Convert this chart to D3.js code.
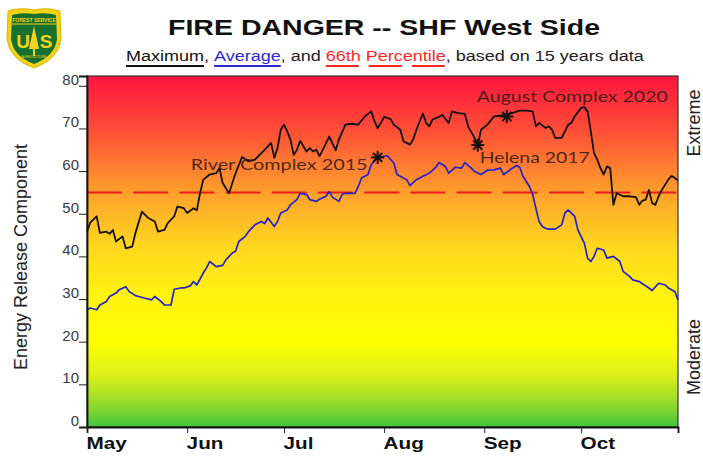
<!DOCTYPE html>
<html>
<head>
<meta charset="utf-8">
<script src="https://cdn.jsdelivr.net/npm/d3@7"></script>
<style>
  body { margin: 0; background: #fff; }
  svg { display: block; font-family: "Liberation Sans", Arial, sans-serif; }
</style>
</head>
<body>
<svg id="chart"></svg>
<script>
const width = 703;
const height = 456;
const year = 2021;

const monthTicks = ["05-01", "06-01", "07-01", "08-01", "09-01", "10-01"];
const monthLabels = ["May", "Jun", "Jul", "Aug", "Sep", "Oct"];
const yTicks = [0, 10, 20, 30, 40, 50, 60, 70, 80];
const percentile66 = 55;

// daily maximum ERC over 15 years
const maximumSeries = [
  ["05-01",45.8],["05-02",47.9],["05-04",49.4],["05-05",45.5],["05-07",45.8],["05-08",45.3],
  ["05-09",46.2],["05-10",43.5],["05-12",44.7],["05-13",41.9],["05-15",42.3],["05-16",45.5],
  ["05-18",50.5],["05-20",49.0],["05-22",48.2],["05-23",45.8],["05-25",46.2],["05-26",47.8],
  ["05-28",49.4],["05-29",51.7],["05-31",51.3],["06-01",50.2],["06-03",51.3],["06-04",50.8],
  ["06-05",54.8],["06-06",58.0],["06-08",59.2],["06-10",59.5],["06-11",60.7],["06-12",57.2],
  ["06-14",54.8],["06-15",57.2],["06-16",59.5],["06-18",63.3],["06-20",62.3],["06-22",62.7],
  ["06-24",64.2],["06-25",65.0],["06-27",66.6],["06-28",63.1],["06-29",65.4],["06-30",69.7],
  ["07-01",70.9],["07-02",69.3],["07-03",67.4],["07-04",63.8],["07-05",65.0],["07-06",67.1],
  ["07-08",64.6],["07-09",65.4],["07-10",64.6],["07-11",65.0],["07-12",63.5],["07-13",65.0],
  ["07-15",68.1],["07-17",64.9],["07-18",67.4],["07-20",70.9],["07-22",71.1],["07-24",70.9],
  ["07-26",72.8],["07-28",74.0],["07-29",71.7],["07-30",70.1],["07-31",71.3],["08-01",72.7],
  ["08-03",72.2],["08-04",70.9],["08-06",69.7],["08-07",67.0],["08-09",66.2],["08-10",67.4],
  ["08-11",69.7],["08-13",73.5],["08-14",71.3],["08-15",70.5],["08-16",72.1],["08-18",72.7],
  ["08-19",73.2],["08-21",71.3],["08-22",74.0],["08-24",73.6],["08-26",73.4],["08-27",70.5],
  ["08-29",67.8],["08-30",65.8],["08-31",69.7],["09-02",70.9],["09-04",72.8],["09-06",73.0],
  ["09-08",73.2],["09-12",74.2],["09-14",74.2],["09-16",74.0],["09-17",70.5],["09-18",71.3],
  ["09-20",70.1],["09-21",70.5],["09-22",69.7],["09-23",67.8],["09-25",67.8],["09-27",70.9],
  ["09-28",71.3],["09-29",72.8],["10-01",74.8],["10-02",75.0],["10-03",74.0],["10-04",69.3],
  ["10-05",64.2],["10-06",62.7],["10-07",60.7],["10-08",59.2],["10-09",61.1],["10-10",60.7],
  ["10-11",52.1],["10-12",54.8],["10-14",54.1],["10-16",54.1],["10-18",53.9],["10-19",52.1],
  ["10-20",53.1],["10-21",53.3],["10-22",55.6],["10-23",52.5],["10-24",52.1],["10-25",54.1],
  ["10-26",55.6],["10-28",58.0],["10-29",58.9],["10-30",58.4],["10-31",57.8]
];

// daily average ERC
const averageSeries = [
  ["05-01",27.5],["05-02",27.9],["05-04",27.5],["05-05",28.6],["05-07",29.4],["05-08",30.6],
  ["05-10",31.4],["05-11",32.2],["05-13",32.9],["05-14",31.8],["05-16",30.8],["05-17",30.6],
  ["05-19",30.2],["05-21",29.8],["05-22",30.6],["05-24",29.4],["05-25",28.6],["05-27",28.6],
  ["05-28",32.3],["05-30",32.6],["05-31",32.6],["06-02",33.1],["06-03",34.1],["06-04",33.3],
  ["06-06",36.1],["06-07",37.3],["06-08",38.8],["06-10",37.6],["06-12",37.9],["06-13",39.2],
  ["06-15",40.8],["06-16",41.2],["06-17",43.5],["06-19",44.7],["06-20",45.8],["06-22",47.4],
  ["06-24",48.2],["06-25",47.7],["06-26",49.0],["06-28",47.0],["06-29",48.2],["06-30",50.2],
  ["07-02",50.9],["07-03",52.1],["07-05",53.3],["07-06",54.8],["07-08",54.5],["07-09",53.3],
  ["07-11",52.9],["07-12",53.4],["07-14",54.1],["07-15",55.2],["07-16",53.9],["07-18",52.9],
  ["07-19",54.5],["07-20",54.8],["07-23",54.8],["07-24",56.4],["07-25",58.4],["07-27",59.2],
  ["07-28",61.5],["07-30",63.3],["07-31",63.3],["08-02",63.6],["08-04",61.9],["08-05",59.2],
  ["08-08",58.0],["08-09",56.6],["08-11",58.0],["08-13",58.8],["08-15",59.5],["08-17",60.9],
  ["08-18",62.0],["08-20",61.1],["08-21",59.5],["08-23",60.9],["08-25",60.7],["08-26",62.0],
  ["08-28",60.7],["08-29",59.9],["08-31",59.2],["09-02",60.2],["09-04",60.3],["09-06",60.7],
  ["09-07",59.2],["09-09",60.3],["09-11",61.3],["09-12",60.9],["09-13",58.8],["09-15",56.4],
  ["09-16",54.5],["09-17",51.3],["09-18",48.2],["09-19",47.0],["09-20",46.6],["09-21",46.4],
  ["09-23",46.4],["09-25",47.4],["09-26",50.2],["09-27",50.9],["09-29",49.4],["09-30",46.2],
  ["10-02",43.1],["10-03",39.6],["10-04",38.8],["10-05",40.0],["10-06",41.9],["10-08",41.5],
  ["10-09",39.6],["10-11",40.0],["10-13",38.8],["10-14",36.5],["10-16",35.3],["10-17",34.5],
  ["10-19",34.1],["10-20",33.6],["10-22",32.6],["10-23",32.0],["10-25",33.7],["10-27",33.3],
  ["10-28",32.6],["10-30",31.8],["10-31",29.8]
];

const fireDates = ["07-30", "08-30", "09-08"];
const fireValues = [63.2, 66.1, 72.8];
const fireLabels = ["River Complex 2015", "Helena 2017", "August Complex 2020"];

const parseDay = d3.timeParse("%Y-%m-%d");
const toDate = (s) => parseDay(`${year}-${s}`);

const plot = { left: 87, right: 678, top: 76, bottom: 427 };

const svg = d3.select("#chart").attr("width", width).attr("height", height);

const x = d3
  .scaleTime()
  .domain([toDate("05-01"), toDate("10-31")])
  .range([plot.left, plot.right]);
const y = d3.scaleLinear().domain([0, 82.3]).range([plot.bottom, plot.top]);

// background gradient, red at top through yellow to green
const defs = svg.append("defs");
const grad = defs
  .append("linearGradient")
  .attr("id", "bg")
  .attr("gradientUnits", "userSpaceOnUse")
  .attr("x1", 0)
  .attr("x2", 0)
  .attr("y1", plot.top)
  .attr("y2", plot.bottom);
[
  [82.3, "#ff1440"],
  [70, "#ff4c37"],
  [60, "#ff8430"],
  [52, "#ffae2a"],
  [42, "#ffd81e"],
  [32, "#fff010"],
  [20, "#ffff00"],
  [12, "#dcef1c"],
  [5, "#90d82c"],
  [0, "#3ec63a"],
].forEach(([v, c]) => {
  grad
    .append("stop")
    .attr("offset", (y(v) - plot.top) / (plot.bottom - plot.top))
    .attr("stop-color", c);
});

svg
  .append("rect")
  .attr("x", plot.left)
  .attr("y", plot.top)
  .attr("width", plot.right - plot.left)
  .attr("height", plot.bottom - plot.top)
  .attr("fill", "url(#bg)");

// 66th percentile
svg
  .append("line")
  .attr("x1", plot.left)
  .attr("x2", x(toDate("10-31")))
  .attr("y1", y(percentile66))
  .attr("y2", y(percentile66))
  .attr("stroke", "#ee1a1a")
  .attr("stroke-width", 2)
  .attr("stroke-dasharray", "35 11.2");

const line = d3
  .line()
  .x((d) => x(toDate(d[0])))
  .y((d) => y(d[1]));

svg
  .append("path")
  .datum(averageSeries)
  .attr("d", line)
  .attr("fill", "none")
  .attr("stroke", "#2222c8")
  .attr("stroke-width", 1.7)
  .attr("stroke-linejoin", "round");

svg
  .append("path")
  .datum(maximumSeries)
  .attr("d", line)
  .attr("fill", "none")
  .attr("stroke", "#111")
  .attr("stroke-width", 1.8)
  .attr("stroke-linejoin", "round");

// fire annotations
const labelOffsets = [
  { dx: -10, dy: 13, anchor: "end", len: 177 },
  { dx: 2, dy: 18, anchor: "start", len: 110 },
  { dx: -30, dy: -15, anchor: "start", len: 191 },
];
fireDates.forEach((d, i) => {
  const cx = x(toDate(d));
  const cy = y(fireValues[i]);
  const g = svg.append("g").attr("transform", `translate(${cx},${cy})`);
  [0, 45, 90, 135].forEach((a) => {
    const r = 6.5;
    const rad = (a * Math.PI) / 180;
    g.append("line")
      .attr("x1", -r * Math.cos(rad))
      .attr("y1", -r * Math.sin(rad))
      .attr("x2", r * Math.cos(rad))
      .attr("y2", r * Math.sin(rad))
      .attr("stroke", "#111")
      .attr("stroke-width", 2);
  });
  const o = labelOffsets[i];
  svg
    .append("text")
    .attr("x", cx + o.dx)
    .attr("y", cy + o.dy)
    .attr("text-anchor", o.anchor)
    .attr("font-family", "Lato, 'Open Sans', sans-serif")
    .attr("font-size", 16)
    .attr("textLength", o.len)
    .attr("lengthAdjust", "spacingAndGlyphs")
    .attr("fill", "#2b1810")
    .attr("fill-opacity", 0.85)
    .text(fireLabels[i]);
});

// frame
svg
  .append("rect")
  .attr("x", plot.left)
  .attr("y", plot.top)
  .attr("width", plot.right - plot.left)
  .attr("height", plot.bottom - plot.top)
  .attr("fill", "none")
  .attr("stroke", "#333")
  .attr("stroke-width", 1.2);

// y axis
const yAxis = svg
  .append("g")
  .attr("transform", `translate(${plot.left},0)`)
  .call(d3.axisLeft(y).tickValues(yTicks).tickSize(8).tickPadding(0).tickFormat(d3.format("d")));
yAxis.select(".domain").attr("stroke", "#111").attr("stroke-width", 1.8);
yAxis.selectAll(".tick line").attr("stroke", "#222");
yAxis
  .selectAll(".tick text")
  .attr("font-size", 15)
  .attr("fill", "#3a3a3a")
  .attr("dy", "-0.1em")
  .attr("x", -8);

// x axis
const xAxis = svg
  .append("g")
  .attr("transform", `translate(0,${plot.bottom})`)
  .call(
    d3
      .axisBottom(x)
      .tickValues(monthTicks.map(toDate))
      .tickSize(6)
      .tickFormat((d, i) => monthLabels[i])
  );
xAxis.select(".domain").attr("stroke", "#111").attr("stroke-width", 1.8);
xAxis.selectAll(".tick line").attr("stroke", "#222");
xAxis
  .selectAll(".tick text")
  .attr("font-size", 17)
  .attr("font-weight", "bold")
  .attr("fill", "#111")
  .attr("text-anchor", "start")
  .attr("x", 0)
  .attr("y", 0)
  .attr("dy", 0)
  .attr("transform", "translate(-1,22) scale(1.22,1)");

// axis titles
svg
  .append("text")
  .attr("transform", `translate(27,257) rotate(-90)`)
  .attr("text-anchor", "middle")
  .attr("font-size", 18)
  .attr("fill", "#222")
  .text("Energy Release Component");
svg
  .append("text")
  .attr("transform", `translate(700,123) rotate(-90)`)
  .attr("text-anchor", "middle")
  .attr("font-size", 18)
  .attr("fill", "#222")
  .text("Extreme");
svg
  .append("text")
  .attr("transform", `translate(700,357) rotate(-90)`)
  .attr("text-anchor", "middle")
  .attr("font-size", 18)
  .attr("fill", "#222")
  .text("Moderate");

// title
svg
  .append("text")
  .attr("x", 168)
  .attr("y", 35)
  .attr("font-size", 22)
  .attr("font-weight", "bold")
  .attr("fill", "#111")
  .attr("textLength", 432)
  .attr("lengthAdjust", "spacingAndGlyphs")
  .text("FIRE DANGER -- SHF West Side");

// subtitle with coloured, underlined words
const subtitleParts = [
  { text: "Maximum", color: "#111", under: "solid" },
  { text: ", ", color: "#222" },
  { text: "Average", color: "#2a2ad6", under: "solid" },
  { text: ", and ", color: "#222" },
  { text: "66th Percentile", color: "#ff2626", under: "dash" },
  { text: ", based on 15 years data", color: "#222" },
];
const sub = svg.append("g");
let cursor = 0;
const placed = subtitleParts.map((p) => {
  const t = sub
    .append("text")
    .attr("x", cursor)
    .attr("y", 0)
    .attr("font-size", 15)
    .attr("fill", p.color)
    .attr("xml:space", "preserve")
    .style("white-space", "pre")
    .text(p.text);
  const w = t.node().getComputedTextLength();
  const r = { x: cursor, w, p };
  cursor += w;
  return r;
});
const sx = 518 / cursor;
sub.attr("transform", `translate(126,61) scale(${sx},1)`);
placed
  .filter((r) => r.p.under)
  .forEach((r) => {
    sub
      .append("line")
      .attr("x1", r.x)
      .attr("x2", r.x + r.w)
      .attr("y1", 5)
      .attr("y2", 5)
      .attr("stroke", r.p.color)
      .attr("stroke-width", 2)
      .attr("stroke-dasharray", r.p.under === "dash" ? `${33 / sx} ${10 / sx}` : null);
  });

// forest service shield
const logo = svg.append("g").attr("transform", "translate(6,7)");
const shield = "M2,4 Q14,0 28,3 Q42,0 54,4 L55,32 Q53,52 28,61 Q3,52 1,32 Z";
logo.append("path").attr("d", shield).attr("fill", "#f2d21a").attr("stroke", "#d8b800").attr("stroke-width", 1);
logo
  .append("path")
  .attr("d", "M6,8 Q16,5 28,7 Q40,5 50,8 L51,32 Q49,49 28,57 Q7,49 5,32 Z")
  .attr("fill", "#17702e");
logo.append("line").attr("x1", 6).attr("x2", 50).attr("y1", 17).attr("y2", 17).attr("stroke", "#f2d21a").attr("stroke-width", 1);
logo
  .append("text")
  .attr("x", 28)
  .attr("y", 14.5)
  .attr("text-anchor", "middle")
  .attr("font-size", 5)
  .attr("font-weight", "bold")
  .attr("fill", "#f2d21a")
  .text("FOREST SERVICE");
logo.append("text").attr("x", 17).attr("y", 41).attr("text-anchor", "middle").attr("font-size", 19).attr("font-weight", "bold").attr("fill", "#f2d21a").text("U");
logo.append("text").attr("x", 40).attr("y", 41).attr("text-anchor", "middle").attr("font-size", 19).attr("font-weight", "bold").attr("fill", "#f2d21a").text("S");
logo.append("path").attr("d", "M28,19 L33,42 L23,42 Z").attr("fill", "#f2d21a");
logo.append("line").attr("x1", 28).attr("x2", 28).attr("y1", 42).attr("y2", 49).attr("stroke", "#f2d21a").attr("stroke-width", 2);
logo
  .append("text")
  .attr("x", 28)
  .attr("y", 51)
  .attr("text-anchor", "middle")
  .attr("font-size", 3.5)
  .attr("fill", "#f2d21a")
  .text("AGRICULTURE");
</script>
</body>
</html>
